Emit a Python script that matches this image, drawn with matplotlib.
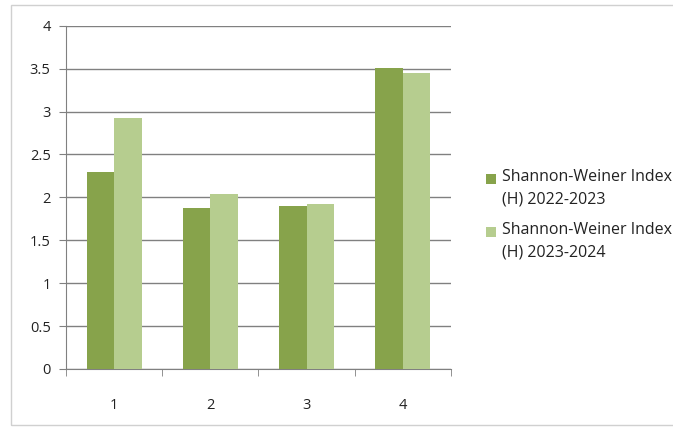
"""
Shannon-Weiner index per site, two sampling years side by side
"""
import matplotlib.pyplot as plt
import matplotlib.patches as mpatches
from matplotlib.legend_handler import HandlerPatch
import numpy as np

sites = [1, 2, 3, 4]
h_2022_2023 = [2.29, 1.87, 1.90, 3.51]
h_2023_2024 = [2.92, 2.04, 1.92, 3.45]
series_labels = ["Shannon-Weiner Index\n(H) 2022-2023", "Shannon-Weiner Index\n(H) 2023-2024"]
y_ticks = [0, 0.5, 1, 1.5, 2, 2.5, 3, 3.5, 4]
y_tick_labels = ["0", "0.5", "1", "1.5", "2", "2.5", "3", "3.5", "4"]

DARK = "#87a34b"
LIGHT = "#b6cd8f"
GRID = "#808080"
TEXT = "#222222"

plt.rcParams["font.family"] = ["Open Sans", "DejaVu Sans"]


def top_square(legend, orig_handle, xdescent, ydescent, width, height, fontsize):
    """
    square legend marker, pushed up to sit next to the first label line
    """
    return mpatches.Rectangle((-xdescent, -ydescent + 0.62 * fontsize), width, width)


def main():
    fig = plt.figure(figsize=(6.73, 4.29), dpi=100)
    ax = fig.add_axes([0.098, 0.140, 0.572, 0.800])

    x = np.arange(len(sites))
    width = 0.285
    bars_a = ax.bar(x - width / 2, h_2022_2023, width, color=DARK, zorder=3)
    bars_b = ax.bar(x + width / 2, h_2023_2024, width, color=LIGHT, zorder=3)

    ax.set_xlim(-0.5, len(sites) - 0.5)
    ax.set_ylim(0, 4)
    ax.set_yticks(y_ticks)
    ax.set_yticklabels(y_tick_labels)
    ax.set_xticks(x)
    ax.set_xticklabels([str(s) for s in sites])
    # tick marks sit between the categories, labels in the middle
    ax.set_xticks(np.arange(len(sites) + 1) - 0.5, minor=True)
    ax.tick_params(axis="x", which="major", length=0, pad=21, labelsize=10.5, labelcolor=TEXT)
    ax.tick_params(axis="x", which="minor", length=5, color=GRID, direction="out")
    ax.tick_params(axis="y", length=5, color=GRID, direction="out", pad=6, labelsize=10.5, labelcolor=TEXT)

    ax.yaxis.grid(True, color=GRID, linewidth=1.0, zorder=0)
    ax.set_axisbelow(True)
    for side in ["top", "right"]:
        ax.spines[side].set_visible(False)
    ax.spines["left"].set_color(GRID)
    ax.spines["bottom"].set_color(GRID)

    handler = HandlerPatch(patch_func=top_square)
    handles = [bars_a.patches[0], bars_b.patches[0]]
    leg = ax.legend(handles, series_labels, loc="center left", bbox_to_anchor=(1.075, 0.449),
                    frameon=False, fontsize=11.5, handlelength=0.62, handleheight=0.62,
                    handletextpad=0.4, labelspacing=0.95, borderaxespad=0,
                    handler_map={h: handler for h in handles})
    for txt in leg.get_texts():
        txt.set_linespacing(1.5)
        txt.set_color(TEXT)

    # light chart frame around the whole picture
    frame = mpatches.Rectangle((11 / 673, 4 / 429), 1.0, 1 - 9 / 429, transform=fig.transFigure,
                               fill=False, edgecolor="#d0d0d0", linewidth=1.0)
    fig.patches.append(frame)

    fig.savefig("out.png", dpi=100)
    plt.close(fig)


if __name__ == "__main__":
    main()
